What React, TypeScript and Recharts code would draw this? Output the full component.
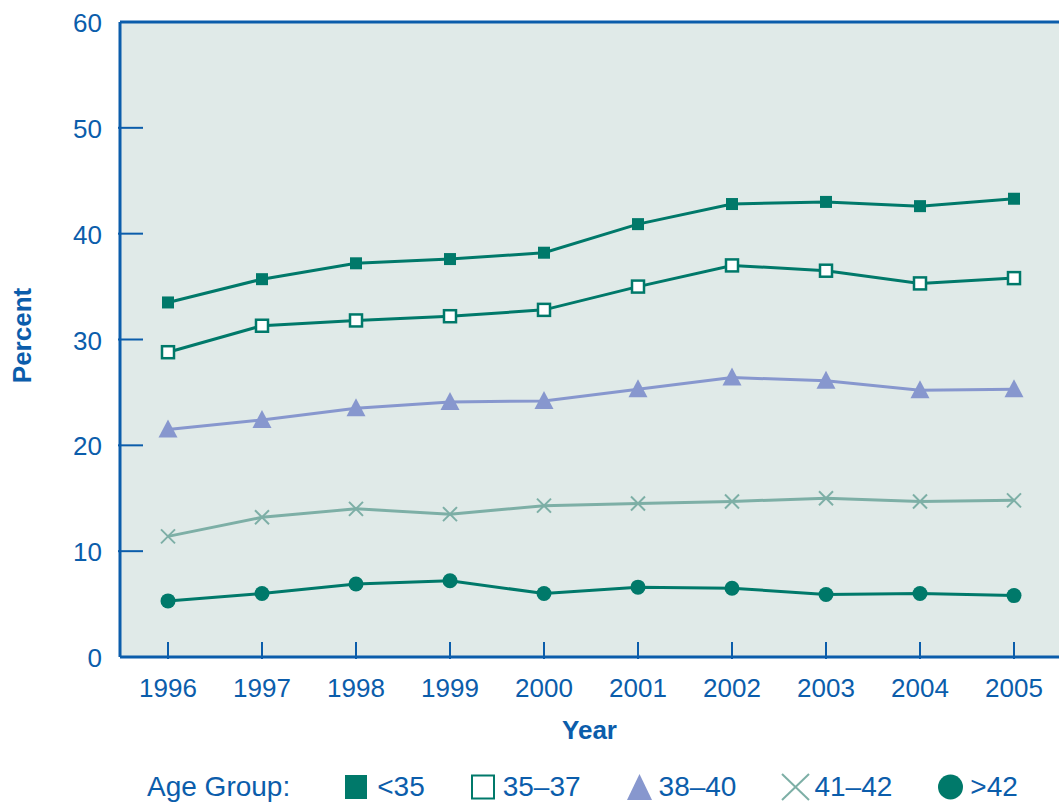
import React from 'react'
import {
  LineChart,
  Line,
  XAxis,
  YAxis,
  CartesianGrid,
  ReferenceLine,
  Legend,
} from 'recharts'

const years = ['1996', '1997', '1998', '1999', '2000', '2001', '2002', '2003', '2004', '2005']
const under35 = [33.5, 35.7, 37.2, 37.6, 38.2, 40.9, 42.8, 43.0, 42.6, 43.3]
const age35to37 = [28.8, 31.3, 31.8, 32.2, 32.8, 35.0, 37.0, 36.5, 35.3, 35.8]
const age38to40 = [21.5, 22.4, 23.5, 24.1, 24.2, 25.3, 26.4, 26.1, 25.2, 25.3]
const age41to42 = [11.4, 13.2, 14.0, 13.5, 14.3, 14.5, 14.7, 15.0, 14.7, 14.8]
const over42 = [5.3, 6.0, 6.9, 7.2, 6.0, 6.6, 6.5, 5.9, 6.0, 5.8]
const yTicks = [0, 10, 20, 30, 40, 50, 60]

const data = years.map((year, i) => ({
  year,
  a: under35[i],
  b: age35to37[i],
  c: age38to40[i],
  d: age41to42[i],
  e: over42[i],
}))

const BLUE = '#0B5DAB'
const TEAL = '#00796A'
const PERI = '#8797CE'
const LTEAL = '#7DAFA6'
const BG = '#E0EAE8'
const FONT = '"Liberation Sans", Arial, Helvetica, sans-serif'

const FilledSquare = (p: any) => (
  <rect key={p.key} x={p.cx - 6} y={p.cy - 6} width={12} height={12} fill={TEAL} />
)
const OpenSquare = (p: any) => (
  <rect key={p.key} x={p.cx - 6} y={p.cy - 6} width={12} height={12} fill="#fff" stroke={TEAL} strokeWidth={2.5} />
)
const Triangle = (p: any) => (
  <polygon
    key={p.key}
    points={`${p.cx},${p.cy - 10} ${p.cx - 9.5},${p.cy + 8} ${p.cx + 9.5},${p.cy + 8}`}
    fill={PERI}
  />
)
const Cross = (p: any) => (
  <g key={p.key} stroke={LTEAL} strokeWidth={2}>
    <line x1={p.cx - 7} y1={p.cy - 7} x2={p.cx + 7} y2={p.cy + 7} />
    <line x1={p.cx - 7} y1={p.cy + 7} x2={p.cx + 7} y2={p.cy - 7} />
  </g>
)
const Circle = (p: any) => <circle key={p.key} cx={p.cx} cy={p.cy} r={7.5} fill={TEAL} />

const XTick = ({ x, y, payload }: any) => (
  <g>
    <line x1={x} y1={y - 17} x2={x} y2={y} stroke={BLUE} strokeWidth={2} />
    <text x={x} y={y + 38} textAnchor="middle" fill={BLUE} fontSize={26} fontFamily={FONT}>
      {payload.value}
    </text>
  </g>
)

const YTick = ({ x, y, payload }: any) => (
  <g>
    {payload.value !== 0 && payload.value !== 60 && (
      <line x1={x} y1={y} x2={x + 25} y2={y} stroke={BLUE} strokeWidth={2} />
    )}
    <text x={x - 16} y={y + 10} textAnchor="end" fill={BLUE} fontSize={26} fontFamily={FONT}>
      {payload.value}
    </text>
  </g>
)

const legendItems = [
  { label: '<35', kind: 'filled' },
  { label: '35–37', kind: 'open' },
  { label: '38–40', kind: 'tri' },
  { label: '41–42', kind: 'x' },
  { label: '>42', kind: 'circle' },
]

const LegendIcon = ({ kind }: { kind: string }) => {
  let shape
  switch (kind) {
    case 'filled':
      shape = <rect x={0} y={1} width={22} height={24} fill={TEAL} />
      break
    case 'open':
      shape = <rect x={1} y={1.5} width={22} height={23} fill="#fff" stroke={TEAL} strokeWidth={2} />
      break
    case 'tri':
      shape = <polygon points="12.5,0 0,26 25,26" fill={PERI} />
      break
    case 'x':
      shape = (
        <g stroke={LTEAL} strokeWidth={2}>
          <line x1={0} y1={0} x2={27} y2={26} />
          <line x1={0} y1={26} x2={27} y2={0} />
        </g>
      )
      break
    default:
      shape = <circle cx={12.5} cy={13} r={12.5} fill={TEAL} />
  }
  return (
    <svg width={26} height={26} style={{ marginRight: 6, overflow: 'visible' }}>
      {shape}
    </svg>
  )
}

const AgeLegend = () => (
  <div
    style={{
      display: 'flex',
      alignItems: 'center',
      height: 36,
      paddingLeft: 147,
      fontFamily: FONT,
      fontSize: 28,
      color: BLUE,
      whiteSpace: 'nowrap',
    }}
  >
    <span style={{ marginRight: 55 }}>Age Group:</span>
    {legendItems.map((it) => (
      <span key={it.label} style={{ display: 'flex', alignItems: 'center', marginRight: 46 }}>
        <LegendIcon kind={it.kind} />
        <span>{it.label}</span>
      </span>
    ))}
  </div>
)

export default function App() {
  return (
    <div style={{ position: 'absolute', left: 0, top: 0, background: '#fff' }}>
      <LineChart
        width={1059}
        height={805}
        data={data}
        margin={{ top: 22, right: 0, left: 0, bottom: 0 }}
      >
        <CartesianGrid horizontal={false} vertical={false} fill={BG} />
        <XAxis
          dataKey="year"
          height={112}
          padding={{ left: 48, right: 45 }}
          tickSize={0}
          tickLine={false}
          tick={<XTick />}
          interval={0}
          axisLine={{ stroke: BLUE, strokeWidth: 3 }}
          label={{
            content: ({ viewBox }: any) => (
              <text
                x={viewBox.x + viewBox.width / 2}
                y={viewBox.y + 82}
                textAnchor="middle"
                fill={BLUE}
                fontSize={26}
                fontWeight="bold"
                fontFamily={FONT}
              >
                Year
              </text>
            ),
          }}
        />
        <YAxis
          width={120}
          domain={[0, 60]}
          ticks={yTicks}
          tickSize={0}
          tickLine={false}
          tick={<YTick />}
          interval={0}
          axisLine={{ stroke: BLUE, strokeWidth: 3 }}
          label={{
            content: ({ viewBox }: any) => {
              const cx = 22
              const cy = viewBox.y + viewBox.height / 2 - 4
              return (
                <text
                  x={cx}
                  y={cy}
                  transform={`rotate(-90 ${cx} ${cy})`}
                  textAnchor="middle"
                  dominantBaseline="central"
                  fill={BLUE}
                  fontSize={26}
                  fontWeight="bold"
                  fontFamily={FONT}
                >
                  Percent
                </text>
              )
            },
          }}
        />
        <ReferenceLine y={60} stroke={BLUE} strokeWidth={3} />
        <Line dataKey="a" stroke={TEAL} strokeWidth={3} dot={FilledSquare} isAnimationActive={false} />
        <Line dataKey="b" stroke={TEAL} strokeWidth={3} dot={OpenSquare} isAnimationActive={false} />
        <Line dataKey="c" stroke={PERI} strokeWidth={3} dot={Triangle} isAnimationActive={false} />
        <Line dataKey="d" stroke={LTEAL} strokeWidth={3} dot={Cross} isAnimationActive={false} />
        <Line dataKey="e" stroke={TEAL} strokeWidth={3} dot={Circle} isAnimationActive={false} />
        <Legend verticalAlign="bottom" content={<AgeLegend />} />
      </LineChart>
    </div>
  )
}
